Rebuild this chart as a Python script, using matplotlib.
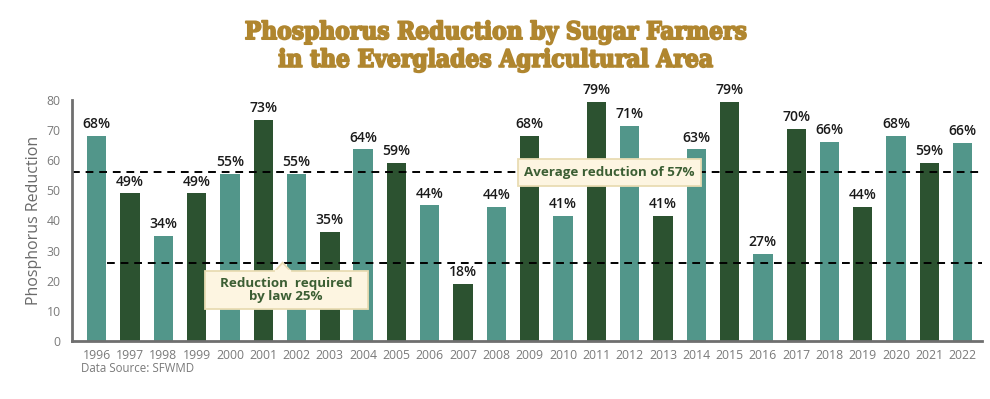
import matplotlib
matplotlib.use("Agg")
import matplotlib.pyplot as plt
import matplotlib.patheffects as pe
import numpy as np
from matplotlib.patches import Polygon, Rectangle

years = [str(y) for y in range(1996, 2023)]
bar_values = [68, 49, 35, 49, 55.5, 73.3, 55.5, 36.3, 63.6, 59, 45, 18.9, 44.4, 68, 41.5,
              79.3, 71.3, 41.5, 63.6, 79.3, 28.8, 70.4, 66, 44.5, 68, 59, 65.8]
value_labels = ["68%", "49%", "34%", "49%", "55%", "73%", "55%", "35%", "64%", "59%", "44%",
                "18%", "44%", "68%", "41%", "79%", "71%", "41%", "63%", "79%", "27%", "70%",
                "66%", "44%", "68%", "59%", "66%"]
average_line = 56
required_line = 26
average_text = "Average reduction of 57%"
required_text = "Reduction  required\nby law 25%"
title_text = "Phosphorus Reduction by Sugar Farmers\nin the Everglades Agricultural Area"
ylabel_text = "Phosphorus Reduction"
source_text = "Data Source: SFWMD"

LIGHT = "#52968a"
DARK = "#2c5230"
GREY = "#6f6f6f"
GOLD = "#b0862f"
BOXFC = "#fdf5e1"
BOXEC = "#e9dcb3"
BOXTXT = "#3b5e33"

plt.rcParams['font.family'] = ['Open Sans', 'DejaVu Sans']

fig = plt.figure(figsize=(9.9, 3.99), dpi=100)
ax = fig.add_axes([0.0724, 0.1454, 0.9196, 0.6040])

x = np.arange(len(years))
colors = [LIGHT if i % 2 == 0 else DARK for i in range(len(years))]
bars = ax.bar(x, bar_values, width=0.58, color=colors, zorder=2)

for xi, v, lab in zip(x, bar_values, value_labels):
    ax.annotate(lab, (xi, v), xytext=(0, 3.5), textcoords="offset points",
                ha="center", va="bottom", fontsize=10, fontweight="semibold",
                color="#1a1a1a", zorder=5)

ax.set_xlim(-0.75, len(years) - 1 + 0.58)
ax.set_ylim(0, 80)

ax.axhline(average_line, color="black", lw=1.4, ls=(0, (4, 3)), zorder=3)
ax.plot([0.31, len(years) - 1 + 0.58], [required_line, required_line], color="black",
        lw=1.4, ls=(0, (4, 3)), zorder=3, clip_on=False)

# average box
avg_cx, avg_w, avg_h = 15.39, 5.5, 9.0
ax.add_patch(Rectangle((avg_cx - avg_w / 2, average_line - avg_h / 2), avg_w, avg_h,
                       fc=BOXFC, ec=BOXEC, lw=1.3, zorder=6))
ax.text(avg_cx, average_line, average_text, ha="center", va="center", fontsize=9.6,
        fontweight="bold", color=BOXTXT, zorder=7)

# required box with pointer
req_cx, req_cy, req_w, req_h = 5.69, 16.9, 4.9, 12.6
ax.add_patch(Rectangle((req_cx - req_w / 2, req_cy - req_h / 2), req_w, req_h,
                       fc=BOXFC, ec=BOXEC, lw=1.3, zorder=6))
top = req_cy + req_h / 2
tri = Polygon([[5.36, top], [5.58, required_line], [5.82, top]], closed=False,
              fc=BOXFC, ec=BOXEC, lw=1.3, zorder=6)
ax.add_patch(tri)
ax.plot([5.38, 5.80], [top, top], color=BOXFC, lw=1.6, zorder=6.5)
ax.text(req_cx, req_cy, required_text, ha="center", va="center", fontsize=9.6,
        fontweight="bold", color=BOXTXT, zorder=7, linespacing=1.0)

for s in ["top", "right"]:
    ax.spines[s].set_visible(False)
for s in ["left", "bottom"]:
    ax.spines[s].set_color(GREY)
    ax.spines[s].set_linewidth(2)
    ax.spines[s].set_zorder(4)

ax.set_xticks(x)
ax.set_xticklabels(years)
ax.set_yticks(range(0, 81, 10))
ax.tick_params(axis="both", length=0, labelsize=8.8, labelcolor="#7a7a7a")
ax.tick_params(axis="x", pad=6)
ax.tick_params(axis="y", pad=8)

ax.set_ylabel(ylabel_text, fontsize=11.5, color="#6a6a6a", labelpad=3)

fig.text(81 / 990, 1 - 369 / 399, source_text, ha="left", va="center", fontsize=8.3,
         color="#7a7a7a")

fig.text(0.5, 1 - 46 / 399, title_text, ha="center", va="center", fontsize=17.5,
         fontweight="bold", fontstretch="condensed", color=GOLD,
         family=["DejaVu Serif"], linespacing=1.2,
         path_effects=[pe.withStroke(linewidth=1.3, foreground=GOLD)])

fig.savefig("out.png", dpi=100)
